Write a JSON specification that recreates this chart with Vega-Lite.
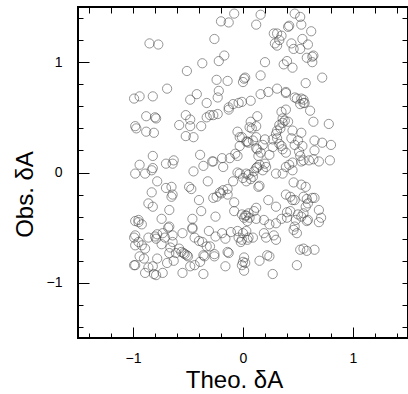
{
  "$schema": "https://vega.github.io/schema/vega-lite/v6.json",
  "width": 330,
  "height": 331,
  "autosize": "none",
  "padding": {"left": 78, "top": 7, "right": 0, "bottom": 56},
  "config": {
    "view": {"stroke": "black", "strokeWidth": 2},
    "font": "Liberation Sans",
    "axis": {"grid": false, "labelColor": "black", "titleColor": "black", "labelFontSize": 14, "titleFontSize": 24, "titleFontWeight": "normal"}
  },
  "data": {"values": [
    {"t":-0.08,"o":1.44},{"t":0.16,"o":1.43},{"t":-0.20,"o":1.37},{"t":-0.13,"o":1.36},{"t":0.12,"o":1.34},
    {"t":0.47,"o":1.44},{"t":0.52,"o":1.41},{"t":0.53,"o":1.34},{"t":0.41,"o":1.32},{"t":0.42,"o":1.33},
    {"t":0.62,"o":1.28},{"t":0.31,"o":1.26},{"t":0.28,"o":1.26},{"t":0.35,"o":1.24},{"t":-0.26,"o":1.21},
    {"t":-0.85,"o":1.17},{"t":-0.77,"o":1.16},{"t":0.54,"o":1.21},{"t":0.33,"o":1.20},{"t":0.29,"o":1.17},
    {"t":0.31,"o":1.15},{"t":0.44,"o":1.17},{"t":0.59,"o":1.16},{"t":0.46,"o":1.12},{"t":0.52,"o":1.12},
    {"t":-0.17,"o":1.06},{"t":0.63,"o":1.05},{"t":0.64,"o":1.06},{"t":0.58,"o":1.04},{"t":-0.22,"o":1.01},
    {"t":-0.37,"o":0.99},{"t":0.20,"o":1.00},{"t":0.40,"o":1.01},{"t":0.37,"o":0.98},{"t":0.45,"o":0.95},
    {"t":0.63,"o":1.00},{"t":-0.51,"o":0.92},{"t":0.02,"o":0.86},{"t":0.01,"o":0.85},{"t":-0.24,"o":0.84},
    {"t":-0.14,"o":0.83},{"t":0.00,"o":0.82},{"t":0.16,"o":0.88},{"t":0.72,"o":0.86},{"t":0.57,"o":0.81},
    {"t":0.31,"o":0.76},{"t":0.39,"o":0.73},{"t":0.39,"o":0.72},{"t":-0.69,"o":0.76},{"t":-0.99,"o":0.67},
    {"t":-0.94,"o":0.69},{"t":-0.82,"o":0.69},{"t":-0.42,"o":0.71},{"t":-0.22,"o":0.74},{"t":-0.23,"o":0.68},
    {"t":0.23,"o":0.73},{"t":0.16,"o":0.71},{"t":0.07,"o":0.65},{"t":-0.01,"o":0.64},{"t":-0.04,"o":0.63},
    {"t":-0.09,"o":0.62},{"t":-0.13,"o":0.59},{"t":-0.48,"o":0.66},{"t":-0.33,"o":0.63},{"t":0.47,"o":0.68},
    {"t":0.49,"o":0.67},{"t":0.53,"o":0.67},{"t":0.55,"o":0.66},{"t":0.56,"o":0.63},{"t":0.52,"o":0.62},
    {"t":0.55,"o":0.63},{"t":0.61,"o":0.56},{"t":-0.88,"o":0.51},{"t":-0.80,"o":0.50},{"t":-0.79,"o":0.49},
    {"t":-0.52,"o":0.52},{"t":-0.48,"o":0.48},{"t":-0.48,"o":0.42},{"t":-0.58,"o":0.43},{"t":-0.38,"o":0.42},
    {"t":-0.33,"o":0.50},{"t":-0.30,"o":0.52},{"t":-0.27,"o":0.52},{"t":-0.23,"o":0.53},{"t":-0.13,"o":0.57},
    {"t":-0.52,"o":0.33},{"t":-0.45,"o":0.32},{"t":-0.88,"o":0.37},{"t":-0.81,"o":0.36},{"t":-0.98,"o":0.42},
    {"t":-0.97,"o":0.40},{"t":0.39,"o":0.57},{"t":0.35,"o":0.55},{"t":0.36,"o":0.49},{"t":0.38,"o":0.47},
    {"t":0.41,"o":0.46},{"t":0.36,"o":0.45},{"t":0.33,"o":0.43},{"t":0.31,"o":0.38},{"t":0.30,"o":0.35},
    {"t":0.34,"o":0.40},{"t":0.45,"o":0.38},{"t":0.53,"o":0.36},{"t":0.64,"o":0.46},{"t":0.78,"o":0.44},
    {"t":-0.05,"o":0.37},{"t":-0.03,"o":0.32},{"t":0.06,"o":0.41},{"t":0.08,"o":0.40},{"t":0.12,"o":0.42},
    {"t":0.13,"o":0.51},{"t":0.07,"o":0.46},{"t":-0.01,"o":0.32},{"t":0.12,"o":0.32},{"t":0.03,"o":0.28},
    {"t":0.05,"o":0.27},{"t":0.04,"o":0.28},{"t":0.09,"o":0.29},{"t":0.12,"o":0.22},{"t":0.13,"o":0.21},
    {"t":0.18,"o":0.25},{"t":0.20,"o":0.30},{"t":0.27,"o":0.30},{"t":0.31,"o":0.31},{"t":0.27,"o":0.23},
    {"t":0.33,"o":0.26},{"t":0.35,"o":0.24},{"t":0.36,"o":0.21},{"t":0.44,"o":0.31},{"t":0.47,"o":0.25},
    {"t":0.50,"o":0.29},{"t":0.54,"o":0.24},{"t":0.51,"o":0.19},{"t":0.65,"o":0.29},{"t":0.65,"o":0.20},
    {"t":0.72,"o":0.27},{"t":0.80,"o":0.25},{"t":-0.03,"o":0.24},{"t":-0.07,"o":0.17},{"t":-0.05,"o":0.15},
    {"t":0.14,"o":0.15},{"t":0.16,"o":0.18},{"t":0.24,"o":0.16},{"t":0.39,"o":0.18},{"t":-0.39,"o":0.16},
    {"t":-0.28,"o":0.10},{"t":-0.19,"o":0.13},{"t":-0.12,"o":0.13},{"t":-0.18,"o":0.05},{"t":-0.27,"o":0.10},
    {"t":-0.82,"o":0.15},{"t":-0.63,"o":0.11},{"t":-0.64,"o":0.08},{"t":-0.70,"o":0.08},{"t":-0.82,"o":0.04},
    {"t":-0.83,"o":0.02},{"t":-0.98,"o":-0.01},{"t":-0.94,"o":0.07},{"t":-0.89,"o":-0.01},{"t":-0.36,"o":0.06},
    {"t":-0.45,"o":0.01},{"t":-0.32,"o":-0.08},{"t":0.52,"o":0.15},{"t":0.53,"o":0.10},{"t":0.55,"o":0.11},
    {"t":0.60,"o":0.11},{"t":0.64,"o":0.12},{"t":0.69,"o":0.10},{"t":0.79,"o":0.11},{"t":0.45,"o":0.09},
    {"t":0.39,"o":0.05},{"t":0.36,"o":-0.01},{"t":0.30,"o":-0.01},{"t":0.45,"o":0.02},{"t":0.42,"o":0.07},
    {"t":0.12,"o":0.04},{"t":0.13,"o":0.05},{"t":0.15,"o":0.07},{"t":0.21,"o":0.05},{"t":0.20,"o":0.08},
    {"t":0.18,"o":0.02},{"t":0.10,"o":0.01},{"t":0.03,"o":-0.01},{"t":0.05,"o":-0.02},{"t":-0.05,"o":0.00},
    {"t":-0.03,"o":-0.01},{"t":0.00,"o":-0.05},{"t":0.09,"o":-0.04},{"t":0.15,"o":-0.12},{"t":0.14,"o":-0.13},
    {"t":0.07,"o":-0.06},{"t":0.03,"o":-0.08},{"t":-0.09,"o":-0.08},{"t":-0.14,"o":-0.15},{"t":-0.18,"o":-0.16},
    {"t":-0.21,"o":-0.18},{"t":-0.20,"o":-0.19},{"t":-0.24,"o":-0.22},{"t":-0.27,"o":-0.23},{"t":-0.14,"o":-0.20},
    {"t":-0.08,"o":-0.27},{"t":-0.40,"o":-0.25},{"t":-0.49,"o":-0.13},{"t":-0.47,"o":-0.15},{"t":-0.65,"o":-0.13},
    {"t":-0.70,"o":-0.14},{"t":-0.64,"o":-0.20},{"t":-0.65,"o":-0.22},{"t":-0.78,"o":-0.08},{"t":-0.83,"o":-0.18},
    {"t":-0.86,"o":-0.28},{"t":-0.82,"o":-0.31},{"t":0.46,"o":-0.09},{"t":0.53,"o":-0.11},{"t":0.57,"o":-0.13},
    {"t":0.39,"o":-0.20},{"t":0.43,"o":-0.22},{"t":0.45,"o":-0.25},{"t":0.47,"o":-0.25},{"t":0.55,"o":-0.22},
    {"t":0.58,"o":-0.24},{"t":0.63,"o":-0.23},{"t":0.65,"o":-0.23},{"t":0.30,"o":-0.31},{"t":0.23,"o":-0.25},
    {"t":0.59,"o":-0.28},{"t":0.57,"o":-0.31},{"t":0.55,"o":-0.37},{"t":0.53,"o":-0.40},{"t":0.59,"o":-0.43},
    {"t":0.58,"o":-0.44},{"t":0.50,"o":-0.38},{"t":0.48,"o":-0.43},{"t":0.43,"o":-0.35},{"t":0.40,"o":-0.36},
    {"t":0.40,"o":-0.41},{"t":0.35,"o":-0.42},{"t":0.47,"o":-0.49},{"t":0.49,"o":-0.55},{"t":0.46,"o":-0.52},
    {"t":0.69,"o":-0.34},{"t":0.71,"o":-0.41},{"t":0.69,"o":-0.45},{"t":0.30,"o":-0.46},{"t":0.12,"o":-0.32},
    {"t":0.10,"o":-0.35},{"t":0.05,"o":-0.37},{"t":0.02,"o":-0.39},{"t":0.03,"o":-0.39},{"t":0.06,"o":-0.41},
    {"t":-0.01,"o":-0.38},{"t":0.01,"o":-0.41},{"t":0.04,"o":-0.44},{"t":0.12,"o":-0.42},{"t":0.19,"o":-0.43},
    {"t":0.24,"o":-0.47},{"t":0.00,"o":-0.55},{"t":0.03,"o":-0.53},{"t":-0.01,"o":-0.61},{"t":-0.02,"o":-0.63},
    {"t":0.05,"o":-0.59},{"t":0.09,"o":-0.59},{"t":-0.08,"o":-0.35},{"t":-0.25,"o":-0.40},{"t":-0.38,"o":-0.35},
    {"t":-0.46,"o":-0.42},{"t":-0.46,"o":-0.50},{"t":-0.67,"o":-0.34},{"t":-0.95,"o":-0.43},{"t":-0.95,"o":-0.45},
    {"t":-0.98,"o":-0.44},{"t":-0.92,"o":-0.47},{"t":-0.74,"o":-0.42},{"t":-0.99,"o":-0.59},{"t":-0.98,"o":-0.57},
    {"t":-0.98,"o":-0.66},{"t":-0.95,"o":-0.63},{"t":-0.92,"o":-0.66},{"t":-0.89,"o":-0.69},{"t":-0.86,"o":-0.59},
    {"t":-0.80,"o":-0.58},{"t":-0.79,"o":-0.60},{"t":-0.78,"o":-0.56},{"t":-0.73,"o":-0.55},{"t":-0.68,"o":-0.50},
    {"t":-0.67,"o":-0.49},{"t":-0.71,"o":-0.59},{"t":-0.64,"o":-0.57},{"t":-0.64,"o":-0.63},{"t":-0.74,"o":-0.65},
    {"t":-0.66,"o":-0.68},{"t":-0.58,"o":-0.69},{"t":-0.56,"o":-0.72},{"t":-0.54,"o":-0.73},{"t":-0.53,"o":-0.74},
    {"t":-0.51,"o":-0.75},{"t":-0.50,"o":-0.76},{"t":-0.55,"o":-0.55},{"t":-0.46,"o":-0.51},{"t":-0.44,"o":-0.59},
    {"t":-0.40,"o":-0.62},{"t":-0.37,"o":-0.63},{"t":-0.33,"o":-0.67},{"t":-0.30,"o":-0.67},{"t":-0.31,"o":-0.53},
    {"t":-0.25,"o":-0.58},{"t":-0.19,"o":-0.55},{"t":-0.16,"o":-0.60},{"t":-0.11,"o":-0.54},{"t":-0.05,"o":-0.53},
    {"t":-0.04,"o":-0.59},{"t":-0.14,"o":-0.72},{"t":-0.13,"o":-0.73},{"t":-0.36,"o":-0.75},{"t":-0.35,"o":-0.76},
    {"t":-0.26,"o":-0.74},{"t":0.04,"o":-0.61},{"t":0.19,"o":-0.55},{"t":0.21,"o":-0.59},{"t":0.28,"o":-0.57},
    {"t":0.30,"o":-0.61},{"t":0.52,"o":-0.70},{"t":0.55,"o":-0.69},{"t":0.58,"o":-0.71},{"t":0.65,"o":-0.70},
    {"t":0.22,"o":-0.75},{"t":0.24,"o":-0.76},{"t":0.15,"o":-0.80},{"t":0.01,"o":-0.77},{"t":0.00,"o":-0.81},
    {"t":0.02,"o":-0.82},{"t":-0.01,"o":-0.84},{"t":0.01,"o":-0.89},{"t":-0.16,"o":-0.85},{"t":-0.26,"o":-0.76},
    {"t":-0.39,"o":-0.81},{"t":-0.44,"o":-0.84},{"t":-0.48,"o":-0.85},{"t":-0.55,"o":-0.91},{"t":-0.69,"o":-0.82},
    {"t":-0.78,"o":-0.78},{"t":-0.82,"o":-0.85},{"t":-0.86,"o":-0.86},{"t":-0.90,"o":-0.78},{"t":-0.94,"o":-0.76},
    {"t":-0.99,"o":-0.84},{"t":-0.98,"o":-0.84},{"t":-0.89,"o":-0.91},{"t":-0.81,"o":-0.92},{"t":-0.79,"o":-0.93},
    {"t":-0.73,"o":-0.91},{"t":-0.63,"o":-0.80},{"t":-0.36,"o":-0.92},{"t":0.27,"o":-0.92},{"t":0.49,"o":-0.84},
    {"t":-0.67,"o":-0.73},{"t":-0.61,"o":-0.73}
  ]},
  "layer": [
    {
      "mark": {"type": "point", "shape": "circle", "filled": false, "size": 85, "stroke": "#444", "strokeWidth": 0.8},
      "encoding": {
        "x": {"field": "t", "type": "quantitative", "scale": {"domain": [-1.5, 1.5], "nice": false, "zero": false},
              "axis": {"orient": "bottom", "values": [-1, 0, 1], "domain": false, "tickSize": -11, "tickColor": "black", "tickWidth": 1, "labelPadding": 24, "title": "Theo. δA", "titlePadding": 3, "titleX": 156, "titleAlign": "center"}},
        "y": {"field": "o", "type": "quantitative", "scale": {"domain": [-1.5, 1.5], "nice": false, "zero": false},
              "axis": {"orient": "left", "values": [-1, 0, 1], "domain": false, "tickSize": -11, "tickColor": "black", "tickWidth": 1, "labelPadding": 27, "title": "Obs. δA", "titlePadding": 9, "titleY": 187, "titleAlign": "center"}}
      }
    },
    {
      "mark": {"type": "point", "opacity": 0},
      "encoding": {
        "x": {"field": "t", "type": "quantitative", "scale": {"domain": [-1.5, 1.5], "nice": false, "zero": false},
              "axis": {"orient": "bottom", "values": [-1.4, -1.2, -0.8, -0.6, -0.4, -0.2, 0.2, 0.4, 0.6, 0.8, 1.2, 1.4], "domain": false, "tickSize": -5, "tickColor": "black", "tickWidth": 1, "labels": false, "title": null}},
        "y": {"field": "o", "type": "quantitative", "scale": {"domain": [-1.5, 1.5], "nice": false, "zero": false},
              "axis": {"orient": "left", "values": [-1.4, -1.2, -0.8, -0.6, -0.4, -0.2, 0.2, 0.4, 0.6, 0.8, 1.2, 1.4], "domain": false, "tickSize": -5, "tickColor": "black", "tickWidth": 1, "labels": false, "title": null}}
      }
    },
    {
      "mark": {"type": "point", "opacity": 0},
      "encoding": {
        "x": {"field": "t", "type": "quantitative", "scale": {"domain": [-1.5, 1.5], "nice": false, "zero": false},
              "axis": {"orient": "top", "values": [-1.4, -1.2, -1, -0.8, -0.6, -0.4, -0.2, 0, 0.2, 0.4, 0.6, 0.8, 1, 1.2, 1.4], "domain": false, "tickSize": -6, "tickColor": "black", "tickWidth": 1, "labels": false, "title": null}},
        "y": {"field": "o", "type": "quantitative", "scale": {"domain": [-1.5, 1.5], "nice": false, "zero": false},
              "axis": {"orient": "right", "values": [-1.4, -1.2, -1, -0.8, -0.6, -0.4, -0.2, 0, 0.2, 0.4, 0.6, 0.8, 1, 1.2, 1.4], "domain": false, "tickSize": -6, "tickColor": "black", "tickWidth": 1, "labels": false, "title": null}}
      }
    }
  ],
  "resolve": {"axis": {"x": "independent", "y": "independent"}}
}
